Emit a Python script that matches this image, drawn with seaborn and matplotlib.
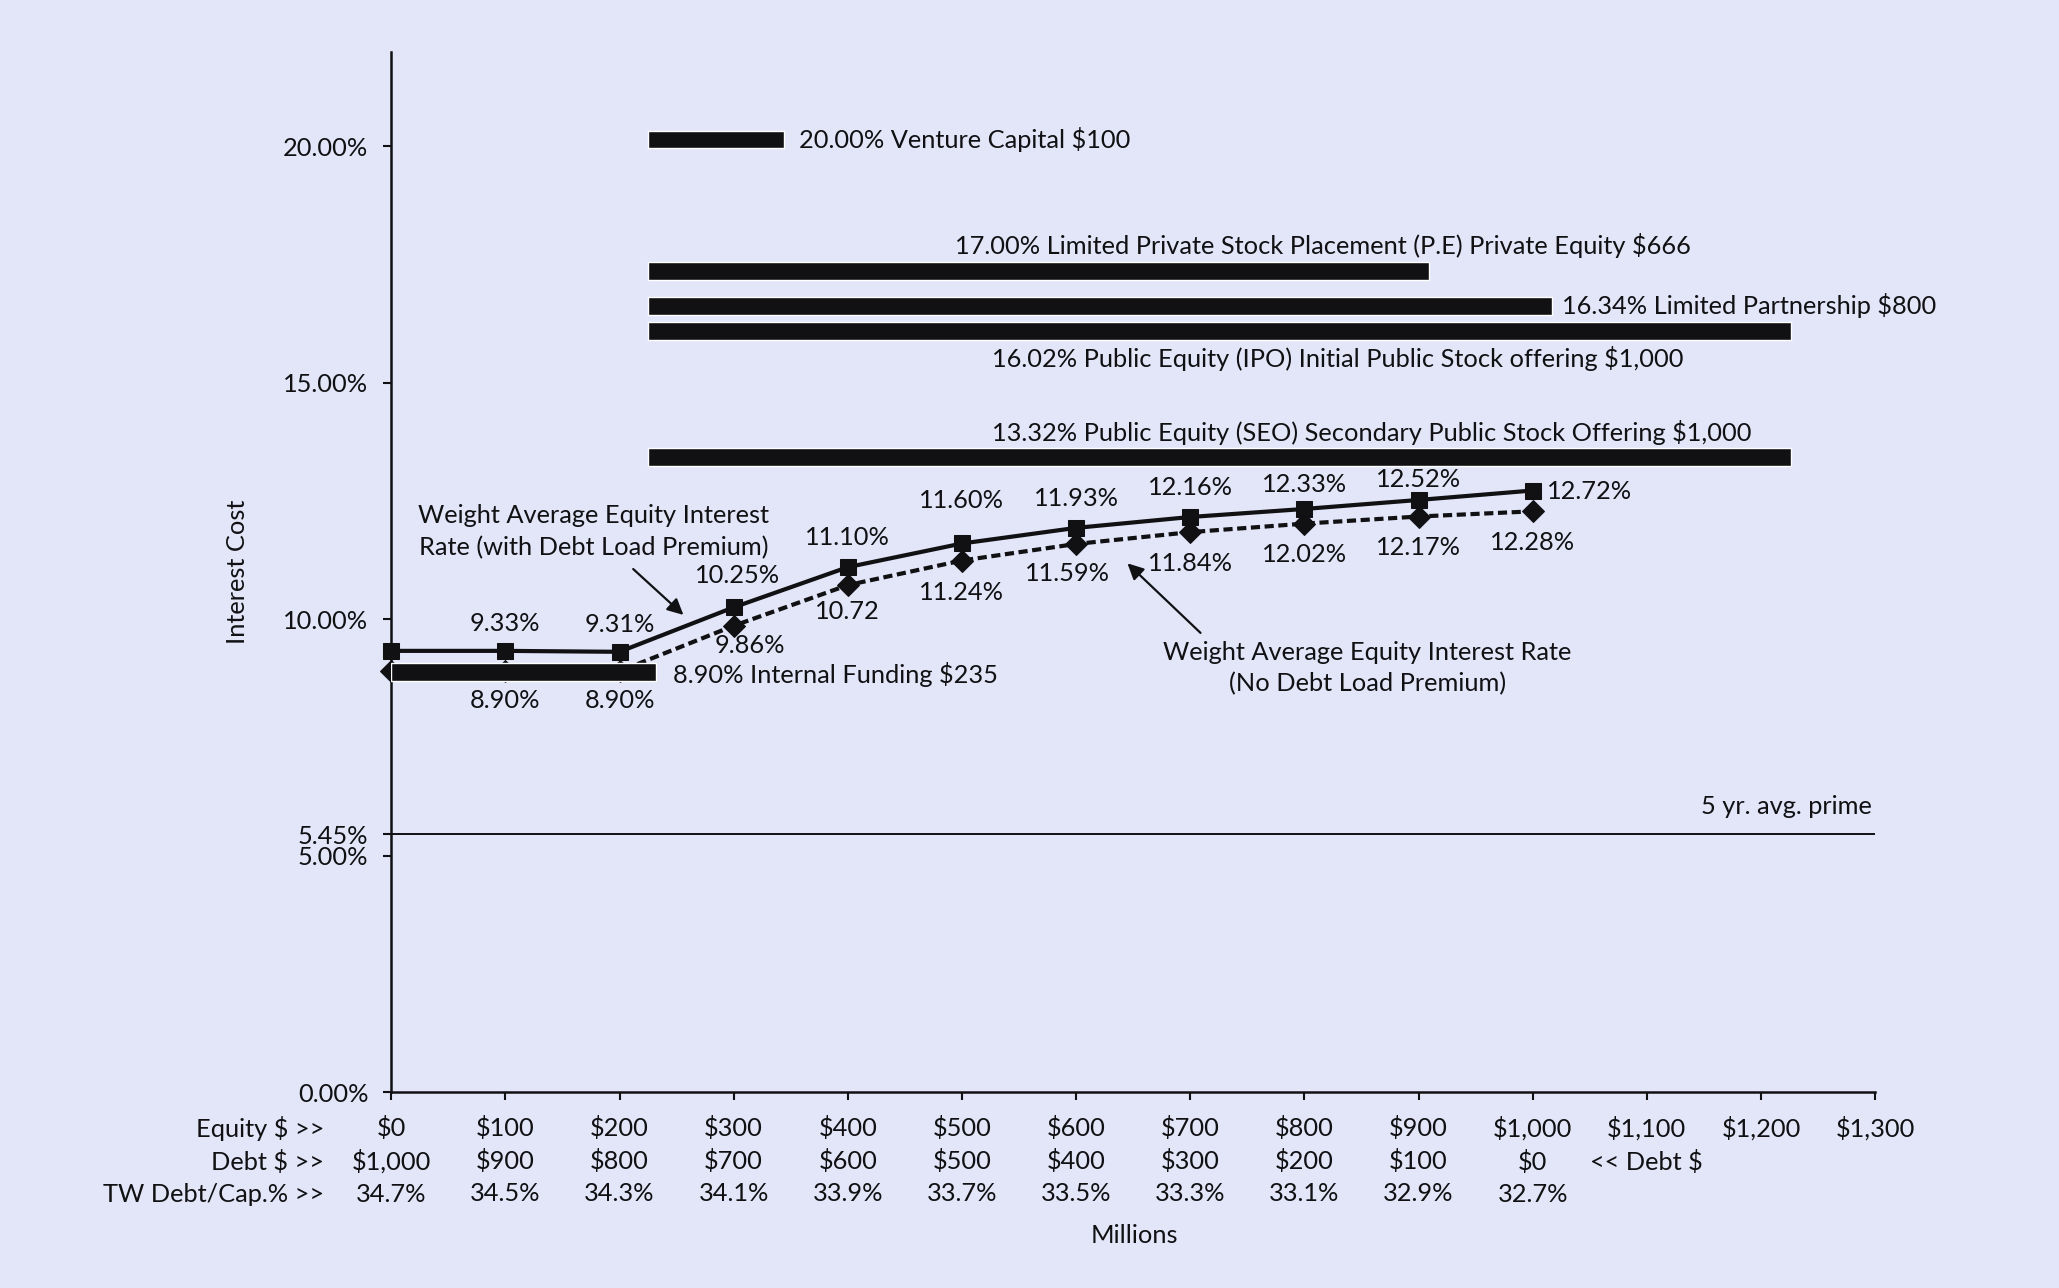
import matplotlib
matplotlib.use("Agg")
import matplotlib.pyplot as plt
import matplotlib.transforms as mtransforms
import seaborn as sns

# x axis: equity raised (millions)
equity = [0, 100, 200, 300, 400, 500, 600, 700, 800, 900, 1000]
debt = [1000, 900, 800, 700, 600, 500, 400, 300, 200, 100, 0]
tw_debt_cap = [34.7, 34.5, 34.3, 34.1, 33.9, 33.7, 33.5, 33.3, 33.1, 32.9, 32.7]
x_ticks = [0, 100, 200, 300, 400, 500, 600, 700, 800, 900, 1000, 1100, 1200, 1300]

# weighted average equity interest rate, %
rate_with_premium = [9.33, 9.33, 9.31, 10.25, 11.10, 11.60, 11.93, 12.16, 12.33, 12.52, 12.72]
rate_no_premium = [8.90, 8.90, 8.90, 9.86, 10.72, 11.24, 11.59, 11.84, 12.02, 12.17, 12.28]
premium_labels = ["", "9.33%", "9.31%", "10.25%", "11.10%", "11.60%", "11.93%",
                  "12.16%", "12.33%", "12.52%", "12.72%"]
no_premium_labels = ["", "8.90%", "8.90%", "9.86%", "10.72", "11.24%", "11.59%",
                     "11.84%", "12.02%", "12.17%", "12.28%"]

# funding sources (bars)
source_labels = [
    "20.00% Venture Capital $100",
    "17.00% Limited Private Stock Placement (P.E) Private Equity $666",
    "16.34% Limited Partnership $800",
    "16.02% Public Equity (IPO) Initial Public Stock offering $1,000",
    "13.32% Public Equity (SEO) Secondary Public Stock Offering $1,000",
    "8.90% Internal Funding $235",
]
source_level = [20.14, 17.37, 16.63, 16.10, 13.43, 8.88]
source_start = [225, 225, 225, 225, 225, 0]
source_end = [344, 909, 1017, 1226, 1226, 232]

prime_rate = 5.45
y_ticks = [0, 5, 5.45, 10, 15, 20]

BG = "#E2E6F8"
INK = "#111114"
FS = 18.3
LS = 1.47

sns.set_theme(style="white")
plt.rcParams["font.family"] = ["Lato", "DejaVu Sans"]
plt.rcParams["text.color"] = INK
plt.rcParams["axes.labelcolor"] = INK
plt.rcParams["xtick.color"] = INK
plt.rcParams["ytick.color"] = INK

fig = plt.figure(figsize=(20.59, 12.88), dpi=100, facecolor=BG)
ax = fig.add_axes([0.190, 0.152, 0.7207, 0.808])
ax.set_facecolor(BG)

# lines
sns.lineplot(x=equity, y=rate_no_premium, ax=ax, color=INK, lw=3,
             linestyle=(0, (2.2, 1.1)), marker="D", markersize=11,
             markeredgecolor=INK, markerfacecolor=INK, clip_on=False, zorder=2)
sns.lineplot(x=equity, y=rate_with_premium, ax=ax, color=INK, lw=3,
             marker="s", markersize=11, markeredgecolor=INK, markerfacecolor=INK,
             clip_on=False, zorder=4)

# bars
widths = [e - s for s, e in zip(source_start, source_end)]
ax.barh(source_level, widths, left=source_start, height=0.38, color=INK,
        zorder=3)

# bar labels: (x, y, ha)
source_pos = [(357, 20.14, "left"), (494, 17.89, "left"), (1026, 16.63, "left"),
              (526, 15.51, "left"), (526, 13.95, "left"), (247, 8.82, "left")]
for lab, (tx, ty, ha) in zip(source_labels, source_pos):
    ax.text(tx, ty, lab, ha=ha, va="center", fontsize=FS)

# point labels
prem_off = [(0, 0), (0, 20), (0, 20), (3, 23), (0, 21), (0, 31), (0, 21),
            (0, 21), (0, 17.5), (0, 15), (10, -1)]
for i, (x, y, lab) in enumerate(zip(equity, rate_with_premium, premium_labels)):
    if not lab:
        continue
    dx, dy = prem_off[i]
    ax.annotate(lab, (x, y), xytext=(dx, dy), textcoords="offset points",
                ha="left" if i == len(equity) - 1 else "center", va="center",
                fontsize=FS)
nop_off = [(0, 0), (0, -21), (0, -21), (12, -14), (0, -19), (0, -23), (-6, -21.5),
           (0, -22.5), (0, -22), (0, -22.5), (0, -22.5)]
for i, (x, y, lab) in enumerate(zip(equity, rate_no_premium, no_premium_labels)):
    if not lab:
        continue
    dx, dy = nop_off[i]
    ax.annotate(lab, (x, y), xytext=(dx, dy), textcoords="offset points",
                ha="center", va="center", fontsize=FS)

# callouts
arrow = dict(arrowstyle="-|>", color=INK, lw=1.6, mutation_scale=24,
             shrinkA=0, shrinkB=0)
ax.annotate("", xy=(256, 10.09), xytext=(212, 11.06), arrowprops=arrow)
ax.text(177, 11.85, "Weight Average Equity Interest\nRate (with Debt Load Premium)",
        ha="center", va="center", fontsize=FS, linespacing=1.44)
ax.annotate("", xy=(645, 11.18), xytext=(709, 9.71), arrowprops=arrow)
ax.text(855, 8.96, "Weight Average Equity Interest Rate\n(No Debt Load Premium)",
        ha="center", va="center", fontsize=FS, linespacing=1.44)

# prime line
ax.axhline(prime_rate, color=INK, lw=1.4, zorder=1)
ax.text(1297, 6.05, "5 yr. avg. prime", ha="right", va="center", fontsize=FS)

# axes
ax.set_xlim(0, 1300)
ax.set_ylim(0, 22)
ax.set_yticks(y_ticks, [f"{v:.2f}%" for v in y_ticks])
xlabels = []
for t in x_ticks:
    if t in equity:
        i = equity.index(t)
        xlabels.append(f"${t:,}\n${debt[i]:,}\n{tw_debt_cap[i]:.1f}%")
    elif t == 1100:
        xlabels.append(f"${t:,}\n<< Debt $")
    else:
        xlabels.append(f"${t:,}")
ax.set_xticks(x_ticks, xlabels)
for lab in ax.get_xticklabels():
    lab.set_linespacing(LS)
ax.tick_params(axis="x", direction="out", length=6, width=1.5, pad=11,
               labelsize=FS, bottom=True)
ax.tick_params(axis="y", direction="out", length=6, width=1.5, pad=10.5,
               labelsize=FS, left=True)
for side in ["top", "right"]:
    ax.spines[side].set_visible(False)
for side in ["left", "bottom"]:
    ax.spines[side].set_color(INK)
    ax.spines[side].set_linewidth(1.8)

hdr_tr = mtransforms.offset_copy(ax.transAxes, fig=fig, y=-17, units="points")
ax.text(-0.0451, 0, "Equity $ >>\nDebt $ >>\nTW Debt/Cap.% >>", transform=hdr_tr,
        ha="right", va="top", multialignment="right", fontsize=FS, linespacing=LS)
ax.text(651, -0.1374, "Millions", transform=ax.get_xaxis_transform(),
        ha="center", va="center", fontsize=FS)
ax.set_ylabel("Interest Cost", fontsize=FS)
ax.yaxis.set_label_coords(-0.0956, 0.5)

fig.savefig("out.png", dpi=100, facecolor=BG)
